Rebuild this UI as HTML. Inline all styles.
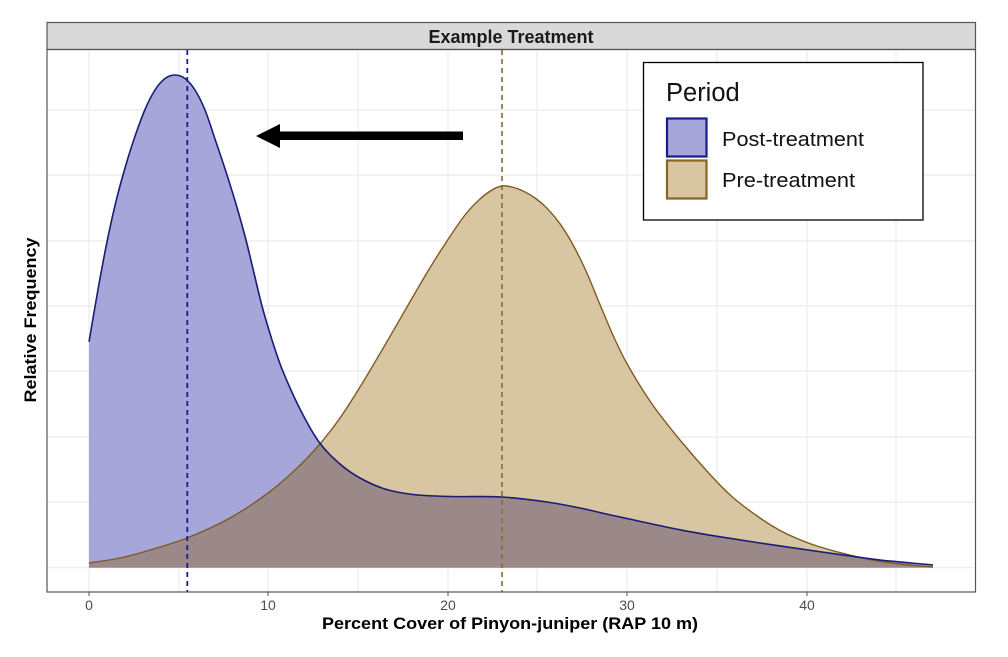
<!DOCTYPE html>
<html><head><meta charset="utf-8"><style>
html,body{margin:0;padding:0;background:#fff;}
svg{display:block;}
text{font-family:"Liberation Sans",Arial,sans-serif;}
</style></head><body>
<svg width="1008" height="657" viewBox="0 0 1008 657" xmlns="http://www.w3.org/2000/svg">
<defs>
<clipPath id="postclip"><path id="postclipPath" d="M89,567.7 L89,341.7 L95,306 L101,273 L107,240 L115,207 L123,175 L134,142 L145,110 L155,89 L165,78 L175,75 L185,78 L195,89 L205,110 L216,142 L227,175 L237,207 L247,240 L254,272 L262,306 L271,340 L280,362 L290,388 L300,410 L319,445 L340,467 L360,480 L385,490 L413,495 L450,496.5 L502,497 L547,502 L580,508 L613,516 L650,525 L680,530 L717,536 L760,543 L808,550 L843,555 L880,560 L933,565 L933,567.7 Z"/></clipPath>
</defs>
<rect width="1008" height="657" fill="#fff"/>
<!-- strip -->
<rect x="47" y="22.5" width="928.5" height="27" fill="#d9d9d9" stroke="#555" stroke-width="1.2"/>
<text x="511" y="43" font-size="18" font-weight="bold" text-anchor="middle" fill="#1a1a1a">Example Treatment</text>
<!-- grid -->
<g stroke="#ebebeb" stroke-width="1.2">
<line x1="47" x2="975" y1="110" y2="110"/><line x1="47" x2="975" y1="175" y2="175"/>
<line x1="47" x2="975" y1="241" y2="241"/><line x1="47" x2="975" y1="306" y2="306"/>
<line x1="47" x2="975" y1="371" y2="371"/><line x1="47" x2="975" y1="437" y2="437"/>
<line x1="47" x2="975" y1="502" y2="502"/><line x1="47" x2="975" y1="567.7" y2="567.7"/>
<line y1="50" y2="592" x1="89" x2="89"/><line y1="50" y2="592" x1="179" x2="179"/>
<line y1="50" y2="592" x1="268" x2="268"/><line y1="50" y2="592" x1="358" x2="358"/>
<line y1="50" y2="592" x1="448" x2="448"/><line y1="50" y2="592" x1="537" x2="537"/>
<line y1="50" y2="592" x1="627" x2="627"/><line y1="50" y2="592" x1="717" x2="717"/>
<line y1="50" y2="592" x1="807" x2="807"/><line y1="50" y2="592" x1="896" x2="896"/>
</g>
<!-- fills -->
<path id="postFill" d="M89,567.7 L89,341.7 L95,306 L101,273 L107,240 L115,207 L123,175 L134,142 L145,110 L155,89 L165,78 L175,75 L185,78 L195,89 L205,110 L216,142 L227,175 L237,207 L247,240 L254,272 L262,306 L271,340 L280,362 L290,388 L300,410 L319,445 L340,467 L360,480 L385,490 L413,495 L450,496.5 L502,497 L547,502 L580,508 L613,516 L650,525 L680,530 L717,536 L760,543 L808,550 L843,555 L880,560 L933,565 L933,567.7 Z" fill="#a6a6da"/>
<path id="preFill" d="M89,567.7 L89,563 L120,558 L150,550 L187,538 L230,518 L268,493 L295,470 L319,445 L340,418 L360,387 L385,345 L407,307 L428,271 L447,241 L465,215 L480,199 L492,190 L502,186 L512,187 L522,191 L535,199 L547,207 L560,222 L572,241 L586,272 L600,307 L614,340 L628,370 L652,402 L680,440 L710,477 L733,500 L760,520 L783,533 L810,545 L840,553 L870,560 L900,564 L933,567 L933,567.7 Z" fill="#d8c5a2"/>
<path id="overFill" d="M89,567.7 L89,563 L120,558 L150,550 L187,538 L230,518 L268,493 L295,470 L319,445 L340,418 L360,387 L385,345 L407,307 L428,271 L447,241 L465,215 L480,199 L492,190 L502,186 L512,187 L522,191 L535,199 L547,207 L560,222 L572,241 L586,272 L600,307 L614,340 L628,370 L652,402 L680,440 L710,477 L733,500 L760,520 L783,533 L810,545 L840,553 L870,560 L900,564 L933,567 L933,567.7 Z" fill="#9b8888" clip-path="url(#postclip)"/>
<!-- outlines -->
<path id="preLine" fill="none" stroke="#7d5c1e" stroke-width="1.4" stroke-linejoin="round" d="M89,563 L120,558 L150,550 L187,538 L230,518 L268,493 L295,470 L319,445 L340,418 L360,387 L385,345 L407,307 L428,271 L447,241 L465,215 L480,199 L492,190 L502,186 L512,187 L522,191 L535,199 L547,207 L560,222 L572,241 L586,272 L600,307 L614,340 L628,370 L652,402 L680,440 L710,477 L733,500 L760,520 L783,533 L810,545 L840,553 L870,560 L900,564 L933,567"/>
<path id="postLine" fill="none" stroke="#1b1b78" stroke-width="1.6" stroke-linejoin="round" d="M89,341.7 L95,306 L101,273 L107,240 L115,207 L123,175 L134,142 L145,110 L155,89 L165,78 L175,75 L185,78 L195,89 L205,110 L216,142 L227,175 L237,207 L247,240 L254,272 L262,306 L271,340 L280,362 L290,388 L300,410 L319,445 L340,467 L360,480 L385,490 L413,495 L450,496.5 L502,497 L547,502 L580,508 L613,516 L650,525 L680,530 L717,536 L760,543 L808,550 L843,555 L880,560 L933,565"/>
<!-- dashed means -->
<line x1="187.3" x2="187.3" y1="50" y2="592" stroke="#1c1c8c" stroke-width="1.8" stroke-dasharray="5,4"/>
<line x1="502" x2="502" y1="50" y2="592" stroke="#8b6a2c" stroke-width="1.6" stroke-dasharray="5,4"/>
<!-- panel border -->
<rect x="47" y="49.5" width="928.5" height="542.5" fill="none" stroke="#555" stroke-width="1.2"/>
<!-- ticks -->
<g stroke="#555" stroke-width="1"><line x1="89" x2="89" y1="592" y2="596"/><line x1="268" x2="268" y1="592" y2="596"/><line x1="448" x2="448" y1="592" y2="596"/><line x1="627" x2="627" y1="592" y2="596"/><line x1="807" x2="807" y1="592" y2="596"/></g>
<g font-size="14" fill="#4d4d4d" text-anchor="middle">
<text x="89" y="610">0</text><text x="268" y="610">10</text><text x="448" y="610">20</text><text x="627" y="610">30</text><text x="807" y="610">40</text>
</g>
<text x="510" y="629" font-size="16.5" font-weight="bold" text-anchor="middle" textLength="376" lengthAdjust="spacingAndGlyphs" fill="#000">Percent Cover of Pinyon-juniper (RAP 10 m)</text>
<text transform="translate(36,320) rotate(-90)" font-size="16.5" font-weight="bold" text-anchor="middle" textLength="165" lengthAdjust="spacingAndGlyphs" fill="#000">Relative Frequency</text>
<!-- arrow -->
<rect x="277" y="131.5" width="186" height="8.5" fill="#000"/>
<polygon points="256,136 280,124 280,148" fill="#000"/>
<!-- legend -->
<rect x="643.5" y="62.5" width="279.5" height="157.5" fill="#fff" stroke="#000" stroke-width="1.3"/>
<text x="666" y="101" font-size="25.5" fill="#111">Period</text>
<rect x="667" y="118.5" width="39.5" height="38" fill="#a6a6da" stroke="#1b1b8a" stroke-width="2.2"/>
<rect x="667" y="160.5" width="39.5" height="38" fill="#d8c5a2" stroke="#8b6420" stroke-width="2.2"/>
<text x="722" y="146" font-size="20" textLength="142" lengthAdjust="spacingAndGlyphs" fill="#111">Post-treatment</text>
<text x="722" y="187" font-size="20" textLength="133" lengthAdjust="spacingAndGlyphs" fill="#111">Pre-treatment</text>
</svg>
<script>
(function(){
  var post=[[89,341.7],[98,289.5],[107,241.8],[116,201.3],[125,168],[134,139.2],[145,109.5],[155,90],[165,78.5],[175,75],[185,78.5],[195,90],[205,110],[216,142],[227,175],[237,207.5],[246,240],[254,273],[262,306],[272,340],[282,369],[300,409],[319,442],[340,464],[360,478],[385,489],[413,494.5],[450,496.5],[502,497],[547,502],[580,508],[613,515.5],[650,523.5],[680,529.8],[717,536.3],[760,543],[808,550],[843,555],[880,560],[933,565]];
  var pre=[[89,563],[120,558],[150,550],[187,538],[230,518],[268,493],[295,470],[319,445],[340,418],[360,387],[385,345],[407,307],[428,271],[447,241],[465,215],[480,199],[492,190],[502,186],[512,187],[522,190.5],[535,198],[547,208.2],[560,223.8],[572,243],[586,271],[600,304.6],[614,337.5],[628,365.5],[652,404],[680,440],[710,474.5],[733,497.5],[760,518],[783,532],[810,543.6],[840,552.6],[870,559.5],[900,564],[933,567]];
  function herm(p){
    var n=p.length,m=[];
    for(var i=0;i<n;i++){
      if(i==0) m.push((p[1][1]-p[0][1])/(p[1][0]-p[0][0]));
      else if(i==n-1) m.push((p[n-1][1]-p[n-2][1])/(p[n-1][0]-p[n-2][0]));
      else m.push((p[i+1][1]-p[i-1][1])/(p[i+1][0]-p[i-1][0]));
    }
    var d="M"+p[0][0]+","+p[0][1];
    for(var i=0;i<n-1;i++){
      var h=p[i+1][0]-p[i][0];
      var c1x=p[i][0]+h/3,c1y=p[i][1]+m[i]*h/3;
      var c2x=p[i+1][0]-h/3,c2y=p[i+1][1]-m[i+1]*h/3;
      d+=" C"+c1x.toFixed(2)+","+c1y.toFixed(2)+" "+c2x.toFixed(2)+","+c2y.toFixed(2)+" "+p[i+1][0]+","+p[i+1][1];
    }
    return d;
  }
  try{
    var pl=herm(post), prl=herm(pre);
    var pf="M89,567.7 L"+pl.slice(1)+" L933,567.7 Z";
    var prf="M89,567.7 L"+prl.slice(1)+" L933,567.7 Z";
    document.getElementById("postLine").setAttribute("d",pl);
    document.getElementById("preLine").setAttribute("d",prl);
    document.getElementById("postFill").setAttribute("d",pf);
    document.getElementById("postclipPath").setAttribute("d",pf);
    document.getElementById("preFill").setAttribute("d",prf);
    document.getElementById("overFill").setAttribute("d",prf);
  }catch(e){}
})();
</script>
</body></html>
